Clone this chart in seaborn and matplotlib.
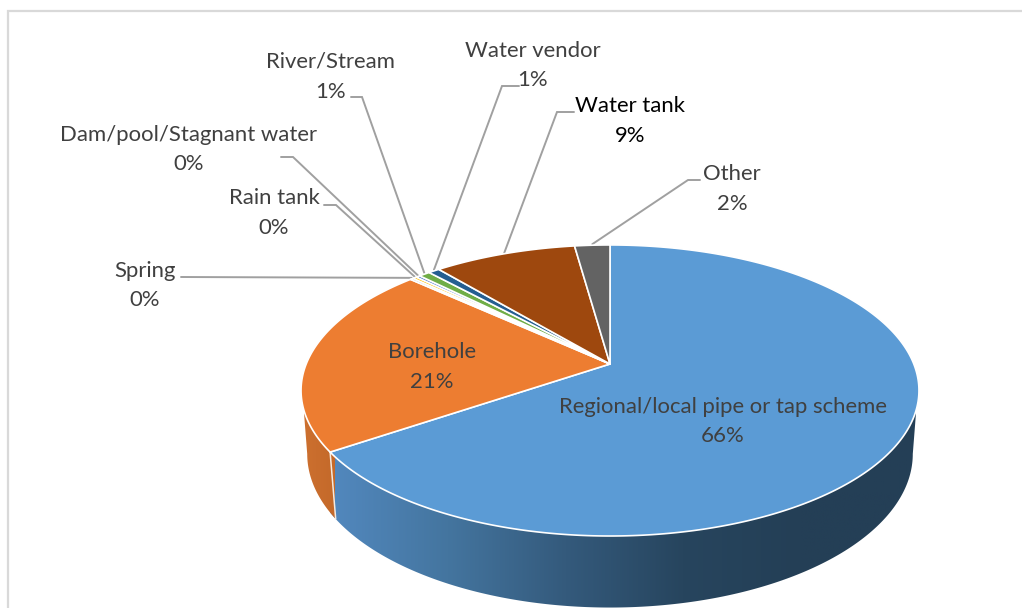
import numpy as np
import matplotlib
matplotlib.use("Agg")
import matplotlib.pyplot as plt
from matplotlib.patches import Polygon
import seaborn as sns

# Data (percent of households)
sources = [
    "Regional/local pipe or tap scheme",
    "Borehole",
    "Spring",
    "Rain tank",
    "Dam/pool/Stagnant water",
    "River/Stream",
    "Water vendor",
    "Water tank",
    "Other",
]
shares = [65.5, 21.3, 0.2, 0.25, 0.25, 0.7, 0.7, 8.9, 2.2]
colors = ["#5B9BD5", "#ED7D31", "#A5A5A5", "#FFC000", "#4472C4", "#70AD47", "#255E91", "#9E480E", "#636363"]

# label centre (x, y of first line), and the elbow of the leader line
label_pos = [(723, 407), (432, 352), (145, 271), (274, 198), (189, 135), (331, 62), (533, 51), (630, 106), (732, 174)]
leader_pts = [
    None,
    None,
    [(181, 277)],
    [(324, 205), (336, 205)],
    [(281, 157), (293, 157)],
    [(351, 97), (362, 97)],
    [(519, 86), (502, 86)],
    [(574, 112), (557, 112)],
    [(700, 180), (688, 180)],
]

sns.set_theme(style="white")
plt.rcParams["font.family"] = ["Lato", "DejaVu Sans"]

fig = plt.figure(figsize=(10.22, 6.08), dpi=100)
ax = fig.add_axes([0, 0, 1, 1])
ax.set_xlim(0, 1022)
ax.set_ylim(608, 0)
ax.axis("off")

# Perspective squash of a unit circle, apex stays off-centre like in a 3D pie
CX, CY = 610, 364
TILT = 0.182
SX, SY = 303.8, 140.7


def top_face(theta):
    u, v = np.sin(theta), np.cos(theta)
    d = 1 + TILT * v
    return CX + SX * u / d, CY - SY * v / d


def bottom_face(theta):
    u, v = np.sin(theta), np.cos(theta)
    d = 1 + TILT * v
    return CX + 0.98 * SX * u / d, 426 - 148.5 * v / d


edges = np.cumsum([0] + shares) / sum(shares) * 2 * np.pi

# chart frame (right and bottom are cropped in the source)
ax.plot([8, 8, 1022], [608, 11, 11], color="#D9D9D9", lw=1.6, solid_joinstyle="miter")

# side wall
tb = np.linspace(0, 2 * np.pi, 721)
x_bot, y_bot = bottom_face(tb)
front = y_bot >= 452
order = np.argsort(x_bot[front])
wall_x = np.r_[x_bot[front][order], 916, 304]
wall_y = np.r_[y_bot[front][order], 413, 413]

blue_wall = sns.blend_palette(["#5288BE", "#44759F", "#345A7C", "#27455E", "#243F56", "#243F56"], as_cmap=True)
split_x = top_face(edges[1])[0]
im = ax.imshow(
    np.linspace(0, 1, 256)[None, :],
    extent=(split_x, 919, 608, 380),
    cmap=blue_wall,
    aspect="auto",
    zorder=2,
)
im.set_clip_path(Polygon(np.c_[wall_x, wall_y], closed=True, transform=ax.transData))

orange_wall = sns.blend_palette(["#CE7130", "#C4692A"], as_cmap=True)
im2 = ax.imshow(
    np.linspace(0, 1, 64)[None, :],
    extent=(298, split_x + 4, 608, 380),
    cmap=orange_wall,
    aspect="auto",
    zorder=2,
)
im2.set_clip_path(Polygon(np.c_[wall_x, wall_y], closed=True, transform=ax.transData))
ax.set_xlim(0, 1022)
ax.set_ylim(608, 0)

# wall seam between the two visible slices, redraws blue to the right of it
p0, p1 = top_face(edges[1]), bottom_face(edges[1])
ax.plot([p0[0], p1[0]], [p0[1], p1[1]], color="#F4E9DF", lw=1.1, zorder=3)

# top face slices, clockwise from twelve o'clock
for i, col in enumerate(colors):
    n = max(int((edges[i + 1] - edges[i]) * 120), 3)
    xs, ys = top_face(np.linspace(edges[i], edges[i + 1], n))
    ax.fill(np.r_[CX, xs], np.r_[CY, ys], facecolor=col, edgecolor="white", lw=1.2, zorder=4, joinstyle="round")

# leader lines end on the rim at the middle of each slice
for i, pts in enumerate(leader_pts):
    if pts is None:
        continue
    ex, ey = top_face((edges[i] + edges[i + 1]) / 2)
    lx = [p[0] for p in pts] + [ex]
    ly = [p[1] for p in pts] + [ey - 1]
    ax.plot(lx, ly, color="#A0A0A0", lw=1.4, zorder=3, solid_joinstyle="miter")

# labels
for i, name in enumerate(sources):
    tx, ty = label_pos[i]
    tc = "black" if name == "Water tank" else "#404040"
    ax.text(tx, ty, name, ha="center", va="center", fontsize=15.9, color=tc, zorder=6)
    ax.text(tx, ty + 29.5, f"{round(shares[i])}%", ha="center", va="center", fontsize=15.9, color=tc, zorder=6)

fig.savefig("out.png", dpi=100, facecolor="white")
plt.close(fig)
